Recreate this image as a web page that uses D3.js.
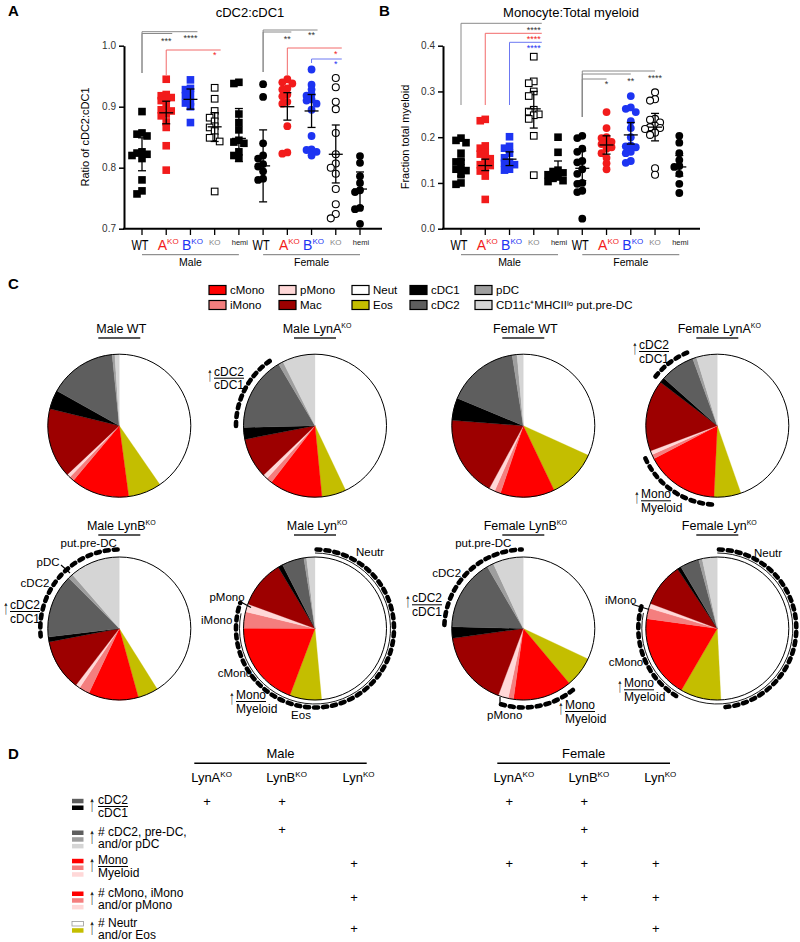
<!DOCTYPE html>
<html><head><meta charset="utf-8">
<script src="https://cdn.jsdelivr.net/npm/d3@7"></script>
<style>
body{margin:0;background:#fff}
text{font-family:Arial,"Liberation Sans",Helvetica,sans-serif;fill:#000}
</style></head>
<body><svg id="c" width="800" height="942" xmlns="http://www.w3.org/2000/svg"></svg>
<script>
// ================= DATA =================
const groupKinds = ["WT","A","B","KO","hemi","WT","A","B","KO","hemi"];
const sexLabels = ["Male","Female"];

// Panel A: cDC2:cDC1 ratio
const ratioMaleWT   = [0.892,0.857,0.855,0.852,0.826,0.824,0.822,0.820,0.815,0.780,0.762,0.757];
const ratioMaleA    = [0.945,0.920,0.918,0.915,0.912,0.910,0.900,0.895,0.893,0.888,0.885,0.875,0.866,0.836,0.796];
const ratioMaleB    = [0.944,0.930,0.928,0.920,0.918,0.908,0.906,0.900,0.874];
const ratioMaleKO   = [0.931,0.913,0.893,0.885,0.882,0.876,0.868,0.866,0.860,0.850,0.849,0.843,0.761];
const ratioMaleHemi = [0.940,0.938,0.888,0.874,0.862,0.845,0.842,0.840,0.826,0.820,0.816];
const ratioFemWT    = [0.937,0.916,0.840,0.820,0.815,0.806,0.802,0.794,0.782,0.780];
const ratioFemA     = [0.945,0.940,0.938,0.930,0.928,0.920,0.917,0.908,0.905,0.868,0.825,0.823];
const ratioFemB     = [0.961,0.936,0.928,0.920,0.918,0.912,0.910,0.905,0.895,0.852,0.830,0.829,0.826,0.820];
const ratioFemKO    = [0.947,0.932,0.908,0.896,0.857,0.822,0.807,0.800,0.790,0.765,0.740,0.724,0.717];
const ratioFemHemi  = [0.819,0.808,0.786,0.775,0.763,0.760,0.734,0.732,0.708];
const ratioCenter = [0.820,0.890,0.912,0.867,0.848,0.803,0.900,0.893,0.822,0.765];
const ratioLow    = [0.795,0.872,0.896,0.843,0.810,0.744,0.878,0.866,0.775,0.736];
const ratioHigh   = [0.849,0.909,0.929,0.890,0.897,0.862,0.923,0.920,0.870,0.793];
const ratioTicks  = [0.7,0.8,0.9,1.0];
const ratioSig = [[0,2,"****","gray"],[0,1,"***","gray"],[1,3,"*","red"],[5,7,"**","gray"],[5,6,"**","gray"],[6,8,"*","red"],[7,8,"*","blue"]];

// Panel B: Monocyte:Total myeloid
const monoMaleWT   = [0.198,0.193,0.188,0.165,0.148,0.146,0.133,0.130,0.127,0.118,0.100,0.097];
const monoMaleA    = [0.239,0.236,0.181,0.176,0.166,0.163,0.155,0.153,0.142,0.140,0.138,0.130,0.126,0.115,0.064];
const monoMaleB    = [0.201,0.180,0.176,0.165,0.155,0.145,0.143,0.140,0.130,0.128];
const monoMaleKO   = [0.376,0.322,0.318,0.300,0.290,0.260,0.256,0.250,0.248,0.240,0.203,0.117];
const monoMaleHemi = [0.200,0.167,0.128,0.125,0.122,0.118,0.113,0.110,0.105,0.103];
const monoFemWT    = [0.203,0.198,0.175,0.168,0.148,0.145,0.130,0.120,0.100,0.098,0.083,0.080,0.022];
const monoFemA     = [0.255,0.220,0.200,0.198,0.190,0.188,0.185,0.178,0.175,0.165,0.155,0.143,0.130];
const monoFemB     = [0.290,0.265,0.262,0.255,0.235,0.220,0.200,0.182,0.180,0.178,0.168,0.165,0.148,0.144];
const monoFemKO    = [0.298,0.283,0.280,0.240,0.238,0.232,0.225,0.222,0.220,0.218,0.210,0.205,0.132,0.118];
const monoFemHemi  = [0.203,0.188,0.165,0.150,0.137,0.135,0.120,0.098,0.078];
const monoCenter = [0.132,0.138,0.152,0.262,0.120,0.132,0.183,0.205,0.222,0.135];
const monoLow    = [0.115,0.127,0.138,0.220,0.110,0.105,0.163,0.185,0.192,0.115];
const monoHigh   = [0.150,0.152,0.168,0.300,0.148,0.170,0.203,0.232,0.252,0.160];
const monoTicks  = [0.0,0.1,0.2,0.3,0.4];
const monoSig = [[0,3,"****","gray"],[1,3,"****","red"],[2,3,"****","blue"],[5,8,"****","gray"],[5,7,"**","gray"],[5,6,"*","gray"]];

// Panel C: pies (percent of myeloid cells)
const cellTypes = ["Neut","Eos","cMono","iMono","pMono","Mac","cDC1","cDC2","pDC","preDC"];
const pieTitles = [["Male WT",""],["Male LynA","KO"],["Female WT",""],["Female LynA","KO"],
                   ["Male LynB","KO"],["Male Lyn","KO"],["Female LynB","KO"],["Female Lyn","KO"]];
const pieMaleWT     = [40.4,7.5,13.2,1.1,0.8,15.8,4.3,15.3,0.6,1.0];
const pieMaleLynA   = [43.0,5.5,12.0,1.3,1.1,9.1,2.7,16.9,1.1,7.4];
const pieFemaleWT   = [31.8,11.1,12.3,1.4,1.3,18.3,5.1,16.2,1.1,1.4];
const pieFemaleLynA = [44.6,6.1,16.6,1.0,0.9,16.1,1.2,7.8,0.9,4.7];
const pieMaleLynB   = [41.1,4.6,11.3,2.4,1.0,11.6,1.1,14.4,1.1,11.4];
const pieMaleLyn    = [48.5,7.2,19.3,3.75,1.8,10.8,1.1,5.0,0.6,1.9];
const pieFemaleLynB = [32.0,6.9,13.3,1.2,2.3,17.1,2.6,16.2,1.5,6.9];
const pieFemaleLyn  = [49.2,9.2,18.8,2.4,1.1,9.9,0.9,4.3,0.8,3.4];
const legendRow1 = [["cMono","cMono"],["pMono","pMono"],["Neut","Neut"],["cDC1","cDC1"],["pDC","pDC"]];
const legendRow2 = [["iMono","iMono"],["Mac","Mac"],["Eos","Eos"],["cDC2","cDC2"],["preDC","CD11c⁺MHCIIˡᵒ put.pre-DC"]];
// highlighted slice ranges (dashed arcs) per pie
const pieHighlights = [[],[["cDC2","cDC2"]],[],[["cDC1","cDC2"],["cMono","pMono"]],
                       [["cDC2","preDC"]],[["Neut","pMono"]],[["cDC2","preDC"],["cMono","pMono"]],[["Neut","Neut"],["cMono","pMono"]]];

// Panel D: summary table
const tableCols = [["LynA","KO"],["LynB","KO"],["Lyn","KO"],["LynA","KO"],["LynB","KO"],["Lyn","KO"]];
const tablePlus = [[1,1,0,1,1,0],[0,1,0,0,1,0],[0,0,1,1,1,1],[0,0,1,0,1,1],[0,0,1,0,0,1]];
const tableSwatches = [["cDC2","cDC1"],["cDC2","pDC","preDC"],["cMono","iMono","pMono"],["cMono","iMono","pMono"],["Neut","Eos"]];

// ================= STYLE =================
const cellColor = {Neut:"#ffffff",Eos:"#c4be00",cMono:"#ff0000",iMono:"#f47e7e",pMono:"#ffd8d8",
  Mac:"#9d0000",cDC1:"#000000",cDC2:"#5e5e5e",pDC:"#9e9e9e",preDC:"#d5d5d5"};
const RED="#f21b1b", BLUE="#1d34f2";
const kindColor = {WT:"#000",A:RED,B:BLUE,KO:"#000",hemi:"#000"};
const sigColor = {gray:["#8a8a8a","#333"],red:["#f26a6a",RED],blue:["#6c78f2",BLUE]};

const svg = d3.select("#c");
svg.append("rect").attr("width",800).attr("height",942).attr("fill","#fff");

function label(t,x,y){svg.append("text").attr("x",x).attr("y",y).attr("font-size",15).attr("font-weight","bold").text(t);}
label("A",8,16); label("B",379,16); label("C",8,289); label("D",8,759);

// thin tall up-arrow drawn as a stretched text glyph
function upArrow(x,yBase,h){
  svg.append("text").attr("transform",`translate(${x},${yBase}) scale(0.55,1)`).attr("font-size",h).text("↑");
}

// ================= SCATTER PANELS =================
function swarm(vals, y, size){
  const pts = vals.map(v=>({v, y:y(v)})).sort((a,b)=>a.y-b.y);
  const placed=[];
  const coll = size*0.62, maxOff = 11;
  pts.forEach(p=>{
    let best=null;
    for(let k=0;k<60;k++){
      const off = (k%2===0?1:-1)*Math.ceil(k/2)*0.5;
      if(Math.abs(off)>maxOff) break;
      const ok = placed.every(q=>Math.max(Math.abs(q.dx-off),Math.abs(q.y-p.y))>=coll);
      if(ok){best=off;break;}
    }
    p.dx = best===null?0:best; placed.push(p);
  });
  return pts;
}

function scatter(cfg){
  const g = svg.append("g");
  const x = d3.scalePoint().domain(d3.range(10)).range(cfg.xr);
  const y = d3.scaleLinear().domain(cfg.dom).range([228.7,45.7]);
  const yg = g.append("g").attr("transform",`translate(${cfg.ax},0)`)
    .call(d3.axisLeft(y).tickValues(cfg.ticks).tickFormat(d3.format(".1f")).tickSize(5).tickSizeOuter(0));
  yg.attr("font-family",null).attr("font-size",null);
  yg.select(".domain").attr("stroke-width",2);
  yg.selectAll(".tick line").attr("stroke-width",1.5);
  yg.selectAll(".tick text").attr("font-size",10).style("fill","#333");
  g.append("line").attr("x1",cfg.ax-1).attr("x2",cfg.axEnd).attr("y1",228.7).attr("y2",228.7).attr("stroke","#000").attr("stroke-width",2);
  g.selectAll(".xt").data(d3.range(10)).join("line").attr("x1",i=>x(i)).attr("x2",i=>x(i))
    .attr("y1",228.7).attr("y2",235).attr("stroke","#000").attr("stroke-width",1.3);
  g.append("text").attr("transform",`translate(${cfg.ylx},137) rotate(-90)`).attr("text-anchor","middle").attr("font-size",11).text(cfg.ylabel);
  g.append("text").attr("x",cfg.tx).attr("y",17).attr("text-anchor","middle").attr("font-size",13).text(cfg.title);
  groupKinds.forEach((k,i)=>{
    const t = g.append("text").attr("text-anchor","middle");
    if(k==="WT"){ t.attr("x",x(i)-2).attr("y",250).attr("font-size",14).attr("textLength",17).attr("lengthAdjust","spacingAndGlyphs").text("WT"); }
    else if(k==="A"||k==="B"){
      t.attr("x",x(i)+2).attr("y",250).attr("font-size",14).style("fill",kindColor[k]);
      t.append("tspan").style("fill",kindColor[k]).text(k);
      t.append("tspan").attr("dy",-6).attr("font-size",8).style("fill",kindColor[k]).text("KO");
    } else if(k==="KO"){ t.attr("x",x(i)).attr("y",245).attr("font-size",8).style("fill","#888").text("KO"); }
    else { t.attr("x",x(i)+1).attr("y",245).attr("font-size",7.5).style("fill","#222").text("hemi"); }
  });
  sexLabels.forEach((s,j)=>{
    g.append("line").attr("x1",x(j*5)).attr("x2",x(j*5+4)).attr("y1",254.7).attr("y2",254.7).attr("stroke","#777").attr("stroke-width",1);
    g.append("text").attr("x",x(j*5+2)).attr("y",266).attr("text-anchor","middle").attr("font-size",10.5).text(s);
  });
  cfg.data.forEach((vals,i)=>{
    const female = i>=5, k=groupKinds[i], open=(k==="KO");
    const col = kindColor[k];
    const pts = swarm(vals,y,female?7.8:7.6);
    const pg = g.append("g");
    if(female){
      pg.selectAll("circle").data(pts).join("circle").attr("cx",d=>x(i)+d.dx).attr("cy",d=>d.y).attr("r",open?3.5:3.9)
        .attr("fill",open?"#fff":col).attr("stroke",open?"#000":"none").attr("stroke-width",1.1);
    } else {
      const s = open?6.6:7.6;
      pg.selectAll("rect").data(pts).join("rect").attr("x",d=>x(i)+d.dx-s/2).attr("y",d=>d.y-s/2).attr("width",s).attr("height",s)
        .attr("fill",open?"#fff":col).attr("stroke",open?"#000":"none").attr("stroke-width",1.1);
    }
    const eb = g.append("g").attr("stroke","#000").attr("stroke-width",1.3);
    const cx=x(i);
    eb.append("line").attr("x1",cx).attr("x2",cx).attr("y1",y(cfg.lo[i])).attr("y2",y(cfg.hi[i]));
    eb.append("line").attr("x1",cx-4).attr("x2",cx+4).attr("y1",y(cfg.lo[i])).attr("y2",y(cfg.lo[i]));
    eb.append("line").attr("x1",cx-4).attr("x2",cx+4).attr("y1",y(cfg.hi[i])).attr("y2",y(cfg.hi[i]));
    eb.append("line").attr("x1",cx-7).attr("x2",cx+7).attr("y1",y(cfg.center[i])).attr("y2",y(cfg.center[i]));
  });
  cfg.sig.forEach((s,j)=>{
    const L = cfg.sigLayout[j];
    const [lc,tc] = sigColor[s[3]];
    g.append("path").attr("d",`M${x(s[0])},${L[1]}V${L[0]}H${x(s[1])+L[3]}`).attr("fill","none").attr("stroke",lc).attr("stroke-width",1);
    g.append("text").attr("x",x(s[1])).attr("y",L[2]).attr("text-anchor","middle").attr("font-size",9).style("fill",tc).text(s[2]);
  });
}

scatter({xr:[142,360],dom:[0.7,1.0],ticks:ratioTicks,ax:124,axEnd:382,ylx:89,ylabel:"Ratio of cDC2:cDC1",tx:250,title:"cDC2:cDC1",
  data:[ratioMaleWT,ratioMaleA,ratioMaleB,ratioMaleKO,ratioMaleHemi,ratioFemWT,ratioFemA,ratioFemB,ratioFemKO,ratioFemHemi],
  center:ratioCenter,lo:ratioLow,hi:ratioHigh,sig:ratioSig,
  sigLayout:[[31.7,73,41,7],[33.5,73,44,6],[50,75,58,6],[30,72,38,6],[32,72,42,4],[48,75,57,6],[59,63,67,6]]});
scatter({xr:[461,679.3],dom:[0,0.4],ticks:monoTicks,ax:443,axEnd:700,ylx:409,ylabel:"Fraction total myeloid",tx:571,title:"Monocyte:Total myeloid",
  data:[monoMaleWT,monoMaleA,monoMaleB,monoMaleKO,monoMaleHemi,monoFemWT,monoFemA,monoFemB,monoFemKO,monoFemHemi],
  center:monoCenter,lo:monoLow,hi:monoHigh,sig:monoSig,
  sigLayout:[[23.3,105,33,8],[33.3,105,42,8],[42.3,105,51,8],[71,117,81,0],[74,117,84,0],[79,117,87,0]]});

// ================= LEGEND =================
const legX=[209,279,352,410,475];
[legendRow1,legendRow2].forEach((row,ri)=>{
  const yc = 290+ri*15;
  row.forEach((d,ci)=>{
    svg.append("rect").attr("x",legX[ci]).attr("y",yc-4.5).attr("width",17).attr("height",9).attr("fill",cellColor[d[0]]).attr("stroke","#000").attr("stroke-width",1.2);
    svg.append("text").attr("x",legX[ci]+21).attr("y",yc+4).attr("font-size",11.5).text(d[1]);
  });
});

// ================= PIES =================
const pieData=[pieMaleWT,pieMaleLynA,pieFemaleWT,pieFemaleLynA,pieMaleLynB,pieMaleLyn,pieFemaleLynB,pieFemaleLyn];
const pcx=[119.3,315,523.3,717.3], pcy=[425.7,628.5], R=71.5;
const pieGen = d3.pie().sort(null).value(d=>d);
const arcGen = d3.arc().innerRadius(0).outerRadius(R);
function arcPath(cx,cy,r,a0,a1){const p=d3.path(); p.arc(cx,cy,r,a0-Math.PI/2,a1-Math.PI/2); return p.toString();}
pieData.forEach((vals,pi)=>{
  const cx=pcx[pi%4], cy=pcy[Math.floor(pi/4)];
  const g=svg.append("g").attr("transform",`translate(${cx},${cy})`);
  const arcs=pieGen(vals);
  g.selectAll("path").data(arcs).join("path").attr("d",arcGen).attr("fill",(d,i)=>cellColor[cellTypes[i]]).attr("stroke",(d,i)=>cellColor[cellTypes[i]]).attr("stroke-width",0.3);
  g.append("circle").attr("r",R).attr("fill","none").attr("stroke","#000").attr("stroke-width",1);
  const ty = Math.floor(pi/4)===0?333:530;
  const t=svg.append("text").attr("x",cx+2).attr("y",ty).attr("text-anchor","middle").attr("font-size",12.5);
  t.append("tspan").text(pieTitles[pi][0]);
  if(pieTitles[pi][1]) t.append("tspan").attr("dy",-5).attr("font-size",7).text(pieTitles[pi][1]);
  svg.append("line").attr("x1",cx-21).attr("x2",cx+21).attr("y1",ty+5).attr("y2",ty+5).attr("stroke","#222").attr("stroke-width",1.5);
  pieHighlights[pi].forEach(h=>{
    const a0=arcs[cellTypes.indexOf(h[0])].startAngle, a1=arcs[cellTypes.indexOf(h[1])].endAngle;
    if((pi===5||pi===7) && h[0]==="Neut"){
      const ring0=arcs[0].startAngle, ring1=arcs[cellTypes.indexOf("pMono")].endAngle - 0.15;
      svg.append("path").attr("d",arcPath(cx,cy,R+4,ring0,ring1)).attr("fill","none").attr("stroke","#000").attr("stroke-width",0.9);
    }
    svg.append("path").attr("d",arcPath(cx,cy,R+7.5,a0+0.02,a1-0.02)).attr("fill","none").attr("stroke","#000")
      .attr("stroke-width",4.6).attr("stroke-linecap","round").attr("stroke-dasharray","4,5");
  });
});

function txt(x,yc,s,fs,anchor){svg.append("text").attr("x",x).attr("y",yc+4).attr("font-size",fs||11.5).attr("text-anchor",anchor||"middle").text(s);}
function leader(x1,y1,x2,y2){svg.append("line").attr("x1",x1).attr("y1",y1).attr("x2",x2).attr("y2",y2).attr("stroke","#000").attr("stroke-width",1.2);}
function frac(x,yc,num,den,fs){
  fs=fs||12;
  upArrow(x,yc+9,20);
  const tx=x+7;
  const t1=svg.append("text").attr("x",tx).attr("y",yc+4).attr("font-size",fs).text(num);
  const w=t1.node().getComputedTextLength();
  svg.append("line").attr("x1",tx).attr("x2",tx+w).attr("y1",yc+6.5).attr("y2",yc+6.5).attr("stroke","#000").attr("stroke-width",1);
  svg.append("text").attr("x",tx).attr("y",yc+17.5).attr("font-size",fs).text(den);
}
frac(207,371.7,"cDC2","cDC1");
frac(632,345,"cDC2","cDC1");
frac(634,494.3,"Mono","Myeloid");
frac(3,605,"cDC2","cDC1");
txt(88.7,543.3,"put.pre-DC"); txt(48,561.7,"pDC"); leader(61,565,70,573); txt(35,583.3,"cDC2");
txt(370,552,"Neutr"); txt(227,596.7,"pMono"); leader(240,601.5,251,607.5); txt(216.7,620,"iMono"); txt(235,673.3,"cMono"); txt(301,715,"Eos");
frac(229,695,"Mono","Myeloid");
txt(483.3,543.3,"put.pre-DC"); txt(446.7,572.7,"cDC2"); frac(405,598.3,"cDC2","cDC1");
txt(504.7,715,"pMono"); leader(500,697,500,706); frac(558,705,"Mono","Myeloid");
txt(768,553.3,"Neutr"); txt(620.7,600,"iMono"); leader(632,604.3,648.3,609.3); txt(626,661.7,"cMono");
frac(617,683.3,"Mono","Myeloid");

// ================= TABLE (D) =================
const colX=[207,282,354,509.3,584.3,655.7];
[[194.3,366.7],[497.3,670]].forEach((r,j)=>{
  svg.append("line").attr("x1",r[0]).attr("x2",r[1]).attr("y1",763.3).attr("y2",763.3).attr("stroke","#000").attr("stroke-width",1.5);
  svg.append("text").attr("x",(r[0]+r[1])/2).attr("y",757.5).attr("text-anchor","middle").attr("font-size",13).text(sexLabels[j]);
});
tableCols.forEach((c,i)=>{
  const t=svg.append("text").attr("x",colX[i]+4.5).attr("y",782).attr("text-anchor","middle").attr("font-size",13);
  t.append("tspan").text(c[0]); t.append("tspan").attr("dy",-5).attr("font-size",8).text(c[1]);
});
const rowY=[800,831.7,860,892.7,922.7], plusY=[801,829.3,863.3,897.3,928.3];
tablePlus.forEach((row,ri)=>row.forEach((v,ci)=>{ if(v) svg.append("text").attr("x",colX[ci]).attr("y",plusY[ri]+4.5).attr("text-anchor","middle").attr("font-size",13).text("+"); }));
tableSwatches.forEach((sw,ri)=>{
  sw.forEach((c,k)=>{
    svg.append("rect").attr("x",72).attr("y",rowY[ri]+1-2.2+k*6.7).attr("width",11.5).attr("height",4.5).attr("fill",cellColor[c])
      .attr("stroke",c==="Neut"?"#999":"none").attr("stroke-width",0.8);
  });
});
const rowText=[["cDC2","cDC1",true],["# cDC2, pre-DC,","and/or pDC",false],["Mono","Myeloid",true],["# cMono, iMono","and/or pMono",false],["# Neutr","and/or Eos",false]];
rowText.forEach((r,ri)=>{
  const yc=rowY[ri];
  upArrow(89,yc+11,22);
  const t=svg.append("text").attr("x",98).attr("y",yc+4).attr("font-size",12).text(r[0]);
  if(r[2]){const w=t.node().getComputedTextLength(); svg.append("line").attr("x1",98).attr("x2",98+w).attr("y1",yc+6.5).attr("y2",yc+6.5).attr("stroke","#000").attr("stroke-width",1);}
  svg.append("text").attr("x",98).attr("y",yc+16.5).attr("font-size",12).text(r[1]);
});
</script></body></html>
